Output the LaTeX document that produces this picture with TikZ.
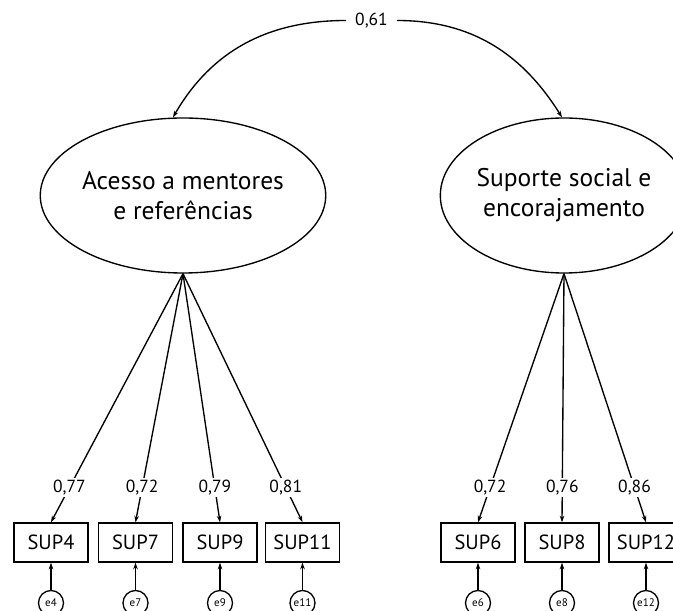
\documentclass[tikz,border=0pt]{standalone}
\usepackage{fontspec}
\setmainfont{PT Sans}
\usetikzlibrary{shapes.geometric,arrows.meta}
\begin{document}
\begin{tikzpicture}[x=1pt,y=1pt,
  arr/.style={line width=1.35pt,-{Stealth[length=6.5pt,width=4.5pt]}},
  latent/.style={ellipse,draw,line width=1.35pt,minimum width=240pt,minimum height=155pt,inner sep=0pt,align=center,font=\fontsize{25.5}{30}\selectfont},
  obs/.style={rectangle,draw,line width=1.5pt,minimum width=74pt,minimum height=39pt,inner sep=0pt,font=\fontsize{20.5}{24}\selectfont},
  err/.style={circle,draw,line width=1.35pt,minimum size=25pt,inner sep=0pt,font=\fontsize{11}{12}\selectfont},
  lbl/.style={fill=white,inner sep=2pt,font=\fontsize{17.5}{20}\selectfont}]
\useasboundingbox (0,0) rectangle (673,611);
% latent variables
\node[latent] (L) at (183,415.5) {Acesso a mentores\\e referências};
\node[latent] (R) at (564,415.5) {Suporte social e\\encorajamento};
% covariance
\node[font=\fontsize{17.5}{20}\selectfont,inner xsep=9pt,inner ysep=1pt] (c61) at (371.5,590.5) {0,61};
\coordinate (lt) at ([xshift=-10pt]L.north);
\coordinate (rt) at ([xshift=-2pt]R.north);
\draw[arr] (c61.west) to[out=180,in=60] (lt);
\draw[arr] (c61.east) to[out=0,in=122] (rt);
% observed variables
\node[obs] (s4) at (51,68.5) {SUP4};
\node[obs] (s7) at (135.5,68.5) {SUP7};
\node[obs] (s9) at (220,68.5) {SUP9};
\node[obs] (s11) at (302.5,68.5) {SUP11};
\node[obs] (s6) at (478,68.5) {SUP6};
\node[obs] (s8) at (562,68.5) {SUP8};
\node[obs] (s12) at (646,68.5) {SUP12};
% errors
\node[err] (e4) at (51,8) {e4};
\node[err] (e7) at (135.5,8) {e7};
\node[err] (e9) at (220,8) {e9};
\node[err] (e11) at (302.5,8) {e11};
\node[err] (e6) at (478,8) {e6};
\node[err] (e8) at (562,8) {e8};
\node[err] (e12) at (646,8) {e12};
% loadings
\draw[arr] (L.south) -- node[lbl,pos=0.86] {0,77} (s4.north);
\draw[arr] (L.south) -- node[lbl,pos=0.86] {0,72} (s7.north);
\draw[arr] (L.south) -- node[lbl,pos=0.86] {0,79} (s9.north);
\draw[arr] (L.south) -- node[lbl,pos=0.86] {0,81} (s11.north);
\draw[arr] (R.south) -- node[lbl,pos=0.86] {0,72} (s6.north);
\draw[arr] (R.south) -- node[lbl,pos=0.86] {0,76} (s8.north);
\draw[arr] (R.south) -- node[lbl,pos=0.86] {0,86} (s12.north);
% error arrows
\foreach \e/\s in {e4/s4,e7/s7,e9/s9,e11/s11,e6/s6,e8/s8,e12/s12}
  \draw[arr] (\e) -- (\s);
\end{tikzpicture}
\end{document}
